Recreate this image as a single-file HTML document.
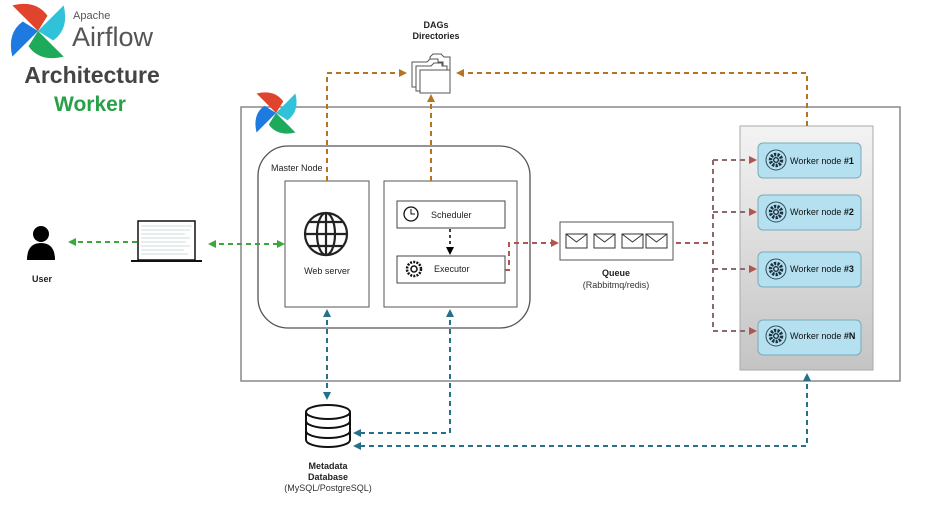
<!DOCTYPE html>
<html><head><meta charset="utf-8"><style>
html,body{margin:0;padding:0;background:#fff;}
svg{display:block;font-family:"Liberation Sans",Arial,sans-serif;}
</style></head><body>
<svg width="948" height="520" viewBox="0 0 948 520" xmlns="http://www.w3.org/2000/svg">
<defs>
<g id="pw">
<path d="M0,0 L-27,-27 Q-2,-33 10,-16 Z" fill="#e0442c"/>
<path d="M0,0 L-27,-27 Q-2,-33 10,-16 Z" fill="#2fc2d8" transform="rotate(90)"/>
<path d="M0,0 L-27,-27 Q-2,-33 10,-16 Z" fill="#1daa5b" transform="rotate(180)"/>
<path d="M0,0 L-27,-27 Q-2,-33 10,-16 Z" fill="#1e7ae0" transform="rotate(270)"/>
</g>
<linearGradient id="wg" x1="0" y1="0" x2="0" y2="1"><stop offset="0" stop-color="#f3f3f3"/><stop offset="1" stop-color="#c4c4c4"/></linearGradient>
<marker id="ao" markerWidth="8" markerHeight="8" refX="6" refY="4" orient="auto-start-reverse" markerUnits="userSpaceOnUse"><path d="M0,0 L8,4 L0,8 Z" fill="#b8731f"/></marker>
<marker id="ab" markerWidth="8" markerHeight="8" refX="6" refY="4" orient="auto-start-reverse" markerUnits="userSpaceOnUse"><path d="M0,0 L8,4 L0,8 Z" fill="#27708a"/></marker>
<marker id="ag" markerWidth="8" markerHeight="8" refX="6" refY="4" orient="auto-start-reverse" markerUnits="userSpaceOnUse"><path d="M0,0 L8,4 L0,8 Z" fill="#3aa83a"/></marker>
<marker id="ar" markerWidth="8" markerHeight="8" refX="6" refY="4" orient="auto-start-reverse" markerUnits="userSpaceOnUse"><path d="M0,0 L8,4 L0,8 Z" fill="#b05550"/></marker>
<marker id="ak" markerWidth="8" markerHeight="8" refX="6" refY="4" orient="auto-start-reverse" markerUnits="userSpaceOnUse"><path d="M0,0 L8,4 L0,8 Z" fill="#000"/></marker>
<g id="gear"><circle r="10" fill="none" stroke="#2b4a5c" stroke-width="1"/><circle r="5.5" fill="none" stroke="#1c3140" stroke-width="3.5" stroke-dasharray="2.2 1.2"/><circle r="3" fill="#1c3140"/><circle r="1.6" fill="#b9e2f0"/></g>
<g id="env"><rect x="0" y="0" width="21" height="14" fill="#fff" stroke="#333" stroke-width="1"/><path d="M0,0 L10.5,8 L21,0" fill="none" stroke="#333"/></g>
</defs>

<use href="#pw" transform="translate(38,31) scale(0.95)"/>
<text x="73" y="19" font-size="11" fill="#555">Apache</text>
<text x="72" y="46" font-size="27" fill="#555">Airflow</text>
<text x="92" y="83" font-size="23" font-weight="bold" fill="#444" text-anchor="middle">Architecture</text>
<text x="90" y="111" font-size="21" font-weight="bold" fill="#27a048" text-anchor="middle">Worker</text>

<rect x="241" y="107" width="659" height="274" fill="none" stroke="#777" stroke-width="1.3"/>
<use href="#pw" transform="translate(276,113) scale(0.72)"/>

<rect x="258" y="146" width="272" height="182" rx="30" fill="none" stroke="#555" stroke-width="1.3"/>
<text x="271" y="171" font-size="9" fill="#222">Master Node</text>
<rect x="285" y="181" width="84" height="126" fill="#fff" stroke="#555"/>
<g fill="none" stroke="#222" stroke-width="2.2">
<circle cx="326" cy="234" r="21"/><ellipse cx="326" cy="234" rx="9" ry="21"/>
<line x1="305" y1="234" x2="347" y2="234"/><line x1="326" y1="213" x2="326" y2="255"/>
<path d="M309,222 H343 M309,246 H343"/>
</g>
<text x="327" y="274" font-size="9" text-anchor="middle" fill="#222">Web server</text>
<rect x="384" y="181" width="133" height="126" fill="#fff" stroke="#555"/>
<rect x="397" y="201" width="108" height="27" fill="#fff" stroke="#444"/>
<circle cx="411" cy="214" r="7" fill="none" stroke="#111" stroke-width="1.3"/><path d="M411,209 V214 H415" fill="none" stroke="#111"/>
<text x="431" y="218" font-size="9" fill="#222">Scheduler</text>
<rect x="397" y="256" width="108" height="27" fill="#fff" stroke="#444"/>
<circle cx="414" cy="269" r="7" fill="none" stroke="#111" stroke-width="2.5" stroke-dasharray="2 1.2"/><circle cx="414" cy="269" r="3" fill="none" stroke="#111" stroke-width="1.5"/>
<text x="434" y="272" font-size="9" fill="#222">Executor</text>
<line x1="450" y1="229" x2="450" y2="253" stroke="#000" stroke-width="1.5" stroke-dasharray="3 3" marker-end="url(#ak)"/>

<rect x="560" y="222" width="113" height="38" fill="#fff" stroke="#555"/>
<use href="#env" transform="translate(566,234)"/>
<use href="#env" transform="translate(594,234)"/>
<use href="#env" transform="translate(622,234)"/>
<use href="#env" transform="translate(646,234)"/>
<text x="616" y="276" font-size="9" font-weight="bold" text-anchor="middle" fill="#222">Queue</text>
<text x="616" y="288" font-size="9" text-anchor="middle" fill="#333">(Rabbitmq/redis)</text>

<rect x="740" y="126" width="133" height="244" fill="url(#wg)" stroke="#aaa"/>
<g font-size="9" fill="#111">
<rect x="758" y="143" width="103" height="35" rx="5" fill="#b4e0f0" stroke="#7aaab8"/><use href="#gear" transform="translate(776,160)"/><text x="790" y="164">Worker node <tspan font-weight="bold">#1</tspan></text>
<rect x="758" y="195" width="103" height="35" rx="5" fill="#b4e0f0" stroke="#7aaab8"/><use href="#gear" transform="translate(776,212)"/><text x="790" y="215">Worker node <tspan font-weight="bold">#2</tspan></text>
<rect x="758" y="252" width="103" height="35" rx="5" fill="#b4e0f0" stroke="#7aaab8"/><use href="#gear" transform="translate(776,269)"/><text x="790" y="272">Worker node <tspan font-weight="bold">#3</tspan></text>
<rect x="758" y="320" width="103" height="35" rx="5" fill="#b4e0f0" stroke="#7aaab8"/><use href="#gear" transform="translate(776,336)"/><text x="790" y="339">Worker node <tspan font-weight="bold">#N</tspan></text>
</g>

<text x="436" y="28" font-size="9" font-weight="bold" text-anchor="middle" fill="#222">DAGs</text>
<text x="436" y="39" font-size="9" font-weight="bold" text-anchor="middle" fill="#222">Directories</text>
<g fill="#fff" stroke="#555" stroke-width="1">
<path d="M430,57 l3,-3 h8 l3,3 h6 v25 h-20 z"/>
<path d="M412,62 h15 l3,-3 h8 v3 h5 v25 h-31 z"/>
<path d="M416,66 h15 l3,-3 h8 v3 h5 v25 h-31 z"/>
<path d="M420,70 h30 v23 h-30 z"/>
</g>

<circle cx="41" cy="234" r="8" fill="#000"/>
<path d="M27,260 Q27,243 41,243 Q55,243 55,260 Z" fill="#000"/>
<text x="42" y="282" font-size="9" font-weight="bold" text-anchor="middle" fill="#222">User</text>
<rect x="138" y="221" width="57" height="39" fill="#fff" stroke="#111" stroke-width="1.5"/>
<g stroke="#9bb" stroke-width="0.6"><path d="M141,226 H192 M141,230 H190 M141,234 H185 M141,238 H190 M141,242 H186 M141,246 H190 M141,250 H184 M141,254 H188"/></g>
<rect x="131" y="260" width="71" height="2" fill="#111"/>

<g fill="none" stroke-width="2" stroke-dasharray="5 4">
<path d="M327,181 V73 H405" stroke="#b8731f" marker-end="url(#ao)"/>
<path d="M431,181 V96" stroke="#b8731f" marker-end="url(#ao)"/>
<path d="M807,126 V73 H458" stroke="#b8731f" marker-end="url(#ao)"/>

<path d="M327,311 V398" stroke="#27708a" marker-start="url(#ab)" marker-end="url(#ab)"/>
<path d="M450,311 V433 H355" stroke="#27708a" marker-start="url(#ab)" marker-end="url(#ab)"/>
<path d="M807,375 V446 H355" stroke="#27708a" marker-start="url(#ab)" marker-end="url(#ab)"/>

<path d="M137,242 H70" stroke="#3aa83a" marker-end="url(#ag)"/>
<path d="M210,244 H283" stroke="#3aa83a" marker-start="url(#ag)" marker-end="url(#ag)"/>

<path d="M505,270 H509 V243 H557" stroke="#b05550" marker-end="url(#ar)"/>
<path d="M676,243 H713" stroke="#b05550"/>
<path d="M713,160 V331" stroke="#8a6a6a"/>
<path d="M713,160 H755" stroke="#8a6a6a" marker-end="url(#ar)"/>
<path d="M713,212 H755" stroke="#8a6a6a" marker-end="url(#ar)"/>
<path d="M713,269 H755" stroke="#8a6a6a" marker-end="url(#ar)"/>
<path d="M713,331 H755" stroke="#8a6a6a" marker-end="url(#ar)"/>
</g>

<g fill="#fff" stroke="#111" stroke-width="2">
<path d="M306,412 V440 A22,7 0 0 0 350,440 V412"/>
<ellipse cx="328" cy="412" rx="22" ry="7"/>
<path d="M306,421 A22,7 0 0 0 350,421 M306,431 A22,7 0 0 0 350,431" fill="none"/>
</g>
<text x="328" y="469" font-size="9" font-weight="bold" text-anchor="middle" fill="#222">Metadata</text>
<text x="328" y="480" font-size="9" font-weight="bold" text-anchor="middle" fill="#222">Database</text>
<text x="328" y="491" font-size="9" text-anchor="middle" fill="#333">(MySQL/PostgreSQL)</text>
</svg>
</body></html>
